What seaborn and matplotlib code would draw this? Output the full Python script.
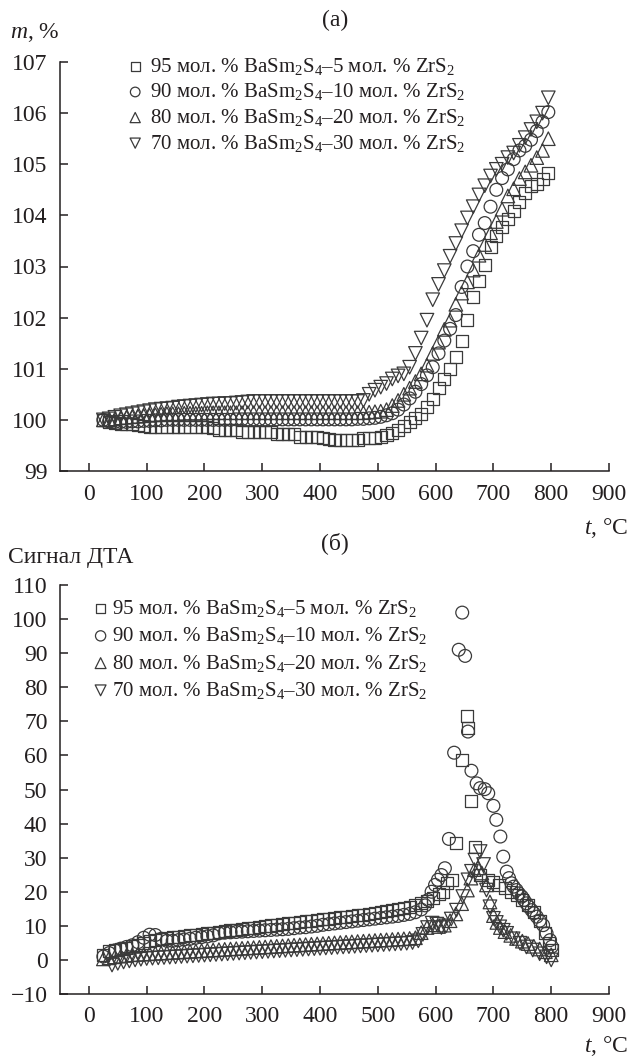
import numpy as np
import pandas as pd
import matplotlib
matplotlib.use("Agg")
import matplotlib.pyplot as plt
import seaborn as sns

# ---------------- data: panel (а) mass change ----------------
T_A = [25, 35, 45, 55, 65, 75, 85, 95, 105, 115,
       125, 135, 145, 155, 165, 175, 185, 195, 205, 215,
       225, 235, 245, 255, 265, 275, 285, 295, 305, 315,
       325, 335, 345, 355, 365, 375, 385, 395, 405, 415,
       425, 435, 445, 455, 465, 475, 485, 495, 505, 515,
       525, 535, 545, 555, 565, 575, 585, 595, 605, 615,
       625, 635, 645, 655, 665, 675, 685, 695, 705, 715,
       725, 735, 745, 755, 765, 775, 785, 795]

M_95 = [100.00, 99.95, 99.93, 99.92, 99.92, 99.91, 99.90, 99.88, 99.87, 99.87,
        99.87, 99.87, 99.87, 99.87, 99.87, 99.87, 99.87, 99.87, 99.86, 99.85,
        99.80, 99.80, 99.80, 99.80, 99.77, 99.77, 99.77, 99.77, 99.77, 99.76,
        99.72, 99.72, 99.72, 99.72, 99.67, 99.66, 99.66, 99.66, 99.65, 99.62,
        99.60, 99.60, 99.60, 99.60, 99.60, 99.64, 99.65, 99.65, 99.66, 99.70,
        99.75, 99.80, 99.88, 99.96, 100.03, 100.12, 100.25, 100.40, 100.62, 100.80,
        101.00, 101.23, 101.55, 101.95, 102.40, 102.72, 103.03, 103.38, 103.60, 103.78,
        103.92, 104.08, 104.27, 104.43, 104.58, 104.62, 104.72, 104.83]

M_90 = [100.00, 99.97, 99.96, 99.96, 99.96, 99.97, 99.97, 99.98, 99.98, 99.99,
        99.99, 100.00, 100.00, 100.00, 100.00, 100.00, 100.00, 100.00, 100.00, 100.00,
        100.00, 100.00, 100.00, 100.01, 100.01, 100.01, 100.01, 100.01, 100.01, 100.01,
        100.01, 100.01, 100.01, 100.01, 100.01, 100.01, 100.01, 100.01, 100.01, 100.01,
        100.01, 100.01, 100.01, 100.01, 100.02, 100.02, 100.03, 100.04, 100.06, 100.09,
        100.13, 100.20, 100.30, 100.42, 100.55, 100.70, 100.87, 101.03, 101.30, 101.55,
        101.78, 102.05, 102.60, 103.00, 103.30, 103.62, 103.85, 104.17, 104.50, 104.73,
        104.90, 105.10, 105.27, 105.36, 105.48, 105.65, 105.83, 106.02]

M_80 = [100.00, 100.00, 100.02, 100.04, 100.05, 100.06, 100.07, 100.08, 100.09, 100.10,
        100.11, 100.12, 100.12, 100.12, 100.13, 100.13, 100.13, 100.13, 100.14, 100.14,
        100.14, 100.14, 100.14, 100.14, 100.14, 100.14, 100.14, 100.14, 100.14, 100.14,
        100.14, 100.14, 100.14, 100.14, 100.14, 100.14, 100.14, 100.14, 100.14, 100.14,
        100.14, 100.14, 100.14, 100.14, 100.14, 100.14, 100.15, 100.16, 100.17, 100.20,
        100.28, 100.38, 100.50, 100.62, 100.75, 100.90, 101.07, 101.30, 101.52, 101.77,
        101.95, 102.26, 102.48, 102.70, 102.93, 103.22, 103.43, 103.66, 103.88, 104.12,
        104.38, 104.52, 104.72, 104.85, 104.98, 105.13, 105.27, 105.50]

M_70 = [100.00, 100.02, 100.05, 100.08, 100.10, 100.12, 100.14, 100.16, 100.18, 100.20,
        100.21, 100.22, 100.23, 100.25, 100.26, 100.27, 100.28, 100.29, 100.30, 100.31,
        100.31, 100.32, 100.32, 100.33, 100.34, 100.35, 100.36, 100.36, 100.36, 100.36,
        100.36, 100.36, 100.36, 100.36, 100.36, 100.36, 100.36, 100.36, 100.36, 100.36,
        100.36, 100.36, 100.36, 100.36, 100.36, 100.38, 100.50, 100.58, 100.64, 100.71,
        100.80, 100.86, 100.90, 101.03, 101.30, 101.60, 101.95, 102.35, 102.65, 102.92,
        103.20, 103.45, 103.70, 103.95, 104.17, 104.40, 104.58, 104.77, 104.90, 105.00,
        105.13, 105.22, 105.37, 105.52, 105.68, 105.83, 106.00, 106.30]

# ---------------- data: panel (б) DTA signal ----------------
T_B95 = [25, 35, 45, 55, 65, 75, 85, 95, 105, 115,
         125, 135, 145, 155, 165, 175, 185, 195, 205, 215,
         225, 235, 245, 255, 265, 275, 285, 295, 305, 315,
         325, 335, 345, 355, 365, 375, 385, 395, 405, 415,
         425, 435, 445, 455, 465, 475, 485, 495, 505, 515,
         525, 535, 545, 555, 565, 575,
         585, 595, 605, 613, 620, 628, 636, 645, 654, 656, 662, 668, 676,
         690, 700, 710, 720, 730, 740, 750, 760, 770, 780, 790, 797, 801]
D_95 = [1.5, 2.5, 3.0, 3.3, 3.6, 4.0, 4.5, 5.0, 5.5, 5.9,
        6.2, 6.4, 6.6, 6.8, 7.0, 7.2, 7.4, 7.6, 7.8, 8.0,
        8.3, 8.5, 8.7, 8.9, 9.1, 9.3, 9.5, 9.7, 9.9, 10.1,
        10.3, 10.5, 10.7, 10.9, 11.1, 11.3, 11.5, 11.7, 11.9, 12.1,
        12.3, 12.5, 12.7, 12.9, 13.1, 13.3, 13.5, 13.8, 14.0, 14.3,
        14.6, 14.9, 15.2, 15.6, 16.0, 16.6,
        17.4, 18.3, 19.3, 20.0, 22.5, 23.5, 34.2, 58.7, 71.6, 68.0, 46.7, 33.2, 25.0,
        23.5, 23.0, 22.0, 21.0, 20.0, 19.0, 17.5, 16.0, 14.0, 11.5, 8.0, 5.0, 3.0]

T_B90 = [25, 35, 45, 55, 65, 75, 85, 95, 105, 115,
         125, 135, 145, 155, 165, 175, 185, 195, 205, 215,
         225, 235, 245, 255, 265, 275, 285, 295, 305, 315,
         325, 335, 345, 355, 365, 375, 385, 395, 405, 415,
         425, 435, 445, 455, 465, 475, 485, 495, 505, 515,
         525, 535, 545, 555, 565, 575,
         582, 587, 593, 599, 604, 610, 616, 623, 632, 640, 646, 651, 656, 662,
         671, 677, 685, 691, 700, 705, 712, 717, 723, 727, 731, 735, 740, 744,
         749, 753, 757, 761, 766, 770, 775, 780, 786, 792, 798, 801]
D_90 = [1.0, 2.0, 2.8, 3.3, 3.8, 4.3, 5.2, 6.5, 7.4, 7.3,
        6.2, 5.6, 5.6, 5.8, 6.0, 6.2, 6.5, 6.7, 6.9, 7.2,
        7.8, 8.0, 8.1, 8.2, 8.3, 8.4, 8.5, 8.6, 8.7, 8.8,
        8.9, 9.0, 9.1, 9.3, 9.5, 9.6, 9.8, 10.0, 10.3, 10.5,
        10.7, 10.9, 11.1, 11.3, 11.5, 11.7, 11.9, 12.1, 12.3, 12.5,
        12.7, 12.9, 13.2, 13.5, 14.0, 14.8,
        16.0, 17.6, 20.0, 22.0, 23.5, 24.9, 26.9, 35.5, 60.8, 91.0, 101.9, 89.2, 67.0, 55.5,
        51.8, 50.4, 50.1, 48.9, 45.2, 41.1, 36.2, 30.3, 25.9, 24.0, 22.5, 21.5, 20.5, 19.5,
        18.6, 17.6, 16.6, 15.6, 14.6, 13.7, 12.7, 11.5, 10.2, 7.8, 5.8, 3.9]

T_B80 = [25, 35, 45, 55, 65, 75, 85, 95, 105, 115,
         125, 135, 145, 155, 165, 175, 185, 195, 205, 215,
         225, 235, 245, 255, 265, 275, 285, 295, 305, 315,
         325, 335, 345, 355, 365, 375, 385, 395, 405, 415,
         425, 435, 445, 455, 465, 475, 485, 495, 505, 515,
         525, 535, 545, 555, 565,
         575, 585, 595, 605, 615, 625, 635, 645, 655, 661, 667, 673, 680, 688,
         694, 700, 706, 712, 720, 730, 740, 750, 760, 770, 780, 790, 800]
D_80 = [0.3, 0.6, 0.9, 1.1, 1.3, 1.5, 1.6, 1.7, 1.8, 1.9,
        2.0, 2.1, 2.2, 2.3, 2.4, 2.5, 2.6, 2.7, 2.8, 2.9,
        3.0, 3.1, 3.2, 3.3, 3.4, 3.5, 3.6, 3.7, 3.8, 3.9,
        4.0, 4.1, 4.2, 4.3, 4.4, 4.5, 4.6, 4.7, 4.8, 4.9,
        5.0, 5.1, 5.2, 5.3, 5.4, 5.5, 5.6, 5.7, 5.8, 5.9,
        6.0, 6.1, 6.2, 6.3, 6.5,
        8.0, 9.5, 10.3, 9.8, 10.2, 11.5, 13.5, 16.5, 20.5, 24.0, 26.5, 27.0, 25.5, 22.0,
        17.0, 13.0, 11.0, 9.5, 8.3, 7.2, 6.3, 5.5, 4.8, 4.0, 3.2, 2.4, 1.5]

T_B70 = [40, 50, 60, 70, 80, 90, 100, 110, 120, 130,
         140, 150, 160, 170, 180, 190, 200, 210, 220, 230,
         240, 250, 260, 270, 280, 290, 300, 310, 320, 330,
         340, 350, 360, 370, 380, 390, 400, 410, 420, 430,
         440, 450, 460, 470, 480, 490, 500, 510, 520, 530,
         540, 550, 560,
         570, 578, 586, 594, 602, 610, 618, 627, 636, 647, 656, 662, 668, 677, 683,
         688, 694, 700, 705, 711, 717, 723, 734, 746, 757, 768, 780, 792, 800]
D_70 = [-1.5, -1.0, -0.6, -0.3, 0.0, 0.2, 0.4, 0.5, 0.6, 0.7,
        0.8, 0.9, 1.0, 1.1, 1.2, 1.3, 1.4, 1.5, 1.6, 1.7,
        1.8, 1.9, 2.0, 2.1, 2.2, 2.3, 2.4, 2.5, 2.6, 2.7,
        2.8, 2.9, 3.0, 3.1, 3.2, 3.3, 3.4, 3.5, 3.6, 3.7,
        3.8, 3.9, 4.0, 4.1, 4.2, 4.3, 4.4, 4.5, 4.6, 4.7,
        4.8, 4.9, 5.1,
        5.6, 7.5, 9.5, 10.8, 10.5, 9.5, 10.0, 12.0, 14.6, 18.6, 23.5, 26.0, 29.3, 31.8, 28.0,
        20.5, 15.6, 12.2, 11.0, 9.7, 8.7, 7.8, 6.2, 4.9, 3.8, 2.9, 1.8, 0.9, 0.0]

LABELS = [r"95 мол. % BaSm$_2$S$_4$–5 мол. % ZrS$_2$",
          r"90 мол. % BaSm$_2$S$_4$–10 мол. % ZrS$_2$",
          r"80 мол. % BaSm$_2$S$_4$–20 мол. % ZrS$_2$",
          r"70 мол. % BaSm$_2$S$_4$–30 мол. % ZrS$_2$"]
MARKERS = ["s", "o", "^", "v"]
X_TICKS = [0, 100, 200, 300, 400, 500, 600, 700, 800, 900]
Y_TICKS_A = [99, 100, 101, 102, 103, 104, 105, 106, 107]
Y_TICKS_B = [-10, 0, 10, 20, 30, 40, 50, 60, 70, 80, 90, 100, 110]

# ---------------- style ----------------
sns.set_style("ticks")
plt.rcParams["font.family"] = ["Liberation Serif", "DejaVu Serif"]
plt.rcParams["mathtext.fontset"] = "custom"
plt.rcParams["mathtext.rm"] = "Liberation Serif"
plt.rcParams["mathtext.it"] = "Liberation Serif:italic"
plt.rcParams["mathtext.bf"] = "Liberation Serif:bold"

INK = "#231f20"
MK = "#3a3a3a"
W, H = 631, 1059
fig = plt.figure(figsize=(W / 100, H / 100), dpi=100)

def frac_box(left, top, right, bottom):
    return [left / W, 1 - bottom / H, (right - left) / W, (bottom - top) / H]

ax_a = fig.add_axes(frac_box(60, 62, 609, 471))
ax_b = fig.add_axes(frac_box(60, 585, 609, 994))

SIZES = {"s": 75, "o": 85, "^": 95, "v": 95}

def style_axis(ax, yticks):
    ax.set_xlim(-50, 900)
    ax.set_ylim(yticks[0], yticks[-1])
    ax.set_xticks(X_TICKS)
    ax.set_yticks(yticks)
    for s in ["top", "right"]:
        ax.spines[s].set_visible(False)
    for s in ["left", "bottom"]:
        ax.spines[s].set_color(INK)
        ax.spines[s].set_linewidth(1.1)
    ax.tick_params(direction="in", length=6, width=1.1, color=INK,
                   labelsize=17, labelcolor=INK)
    ax.tick_params(axis="x", pad=9)
    ax.tick_params(axis="y", pad=9)
    ax.set_xlabel("")
    ax.set_ylabel("")

# panel (а)
for vals, mk, lab in zip([M_95, M_90, M_80, M_70], MARKERS, LABELS):
    sns.scatterplot(x=T_A, y=vals, marker=mk, s=SIZES[mk], facecolors="none",
                    edgecolor=MK, linewidth=0.9, ax=ax_a, label=lab, legend=False)
style_axis(ax_a, Y_TICKS_A)
h, l = ax_a.get_legend_handles_labels()
ax_a.legend(h, l, loc="upper left", bbox_to_anchor=(0.118, 1.015), frameon=False,
            fontsize=15, borderpad=0, handlelength=1.0, handletextpad=0.2,
            labelspacing=0.22, borderaxespad=0, labelcolor=INK, markerscale=0.75)

# panel (б)
for tt, vals, mk, lab in zip([T_B95, T_B90, T_B80, T_B70], [D_95, D_90, D_80, D_70],
                             MARKERS, LABELS):
    sns.scatterplot(x=tt, y=vals, marker=mk, s=SIZES[mk], facecolors="none",
                    edgecolor=MK, linewidth=0.9, ax=ax_b, label=lab, legend=False)
style_axis(ax_b, Y_TICKS_B)
h, l = ax_b.get_legend_handles_labels()
ax_b.legend(h, l, loc="upper left", bbox_to_anchor=(0.055, 0.968), frameon=False,
            fontsize=15, borderpad=0, handlelength=1.0, handletextpad=0.05,
            labelspacing=0.3, borderaxespad=0, labelcolor=INK, markerscale=0.8)

# annotations
def ftext(x, y, s, **kw):
    fig.text(x / W, 1 - y / H, s, color=INK, **kw)

ftext(335, 20, "(а)", fontsize=17, ha="center", va="center")
ftext(10, 33, r"$m$, %", fontsize=17, ha="left", va="center")
ftext(628, 528, r"$t$, °C", fontsize=17, ha="right", va="center")
ftext(335, 543, "(б)", fontsize=17, ha="center", va="center")
ftext(8, 557, "Сигнал ДТА", fontsize=17, ha="left", va="center")
ftext(628, 1046, r"$t$, °C", fontsize=17, ha="right", va="center")

fig.savefig("out.png", dpi=100)
